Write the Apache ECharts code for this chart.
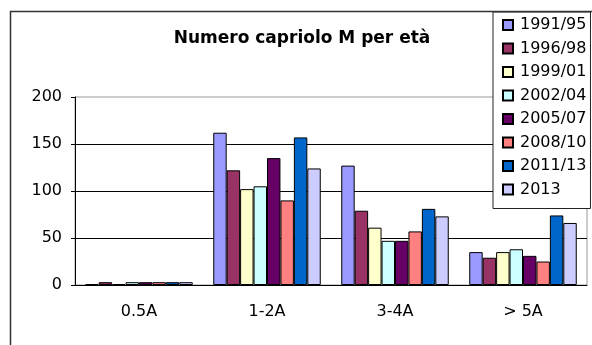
<!DOCTYPE html>
<html><head><meta charset="utf-8">
<script src="https://cdn.jsdelivr.net/npm/echarts@6/dist/echarts.min.js"></script>
<style>html,body{margin:0;padding:0;background:#fff}#c{width:592px;height:345px}</style>
</head><body><div id="c"></div>
<script>
const categories = ['0.5A', '1-2A', '3-4A', '> 5A'];
const seriesNames = ['1991/95', '1996/98', '1999/01', '2002/04', '2005/07', '2008/10', '2011/13', '2013'];
const s1991_95 = [1, 162, 127, 35];
const s1996_98 = [3, 122, 79, 29];
const s1999_01 = [1, 102, 61, 35];
const s2002_04 = [3, 105, 47, 38];
const s2005_07 = [3, 135, 47, 31];
const s2008_10 = [3, 90, 57, 25];
const s2011_13 = [3, 157, 81, 74];
const s2013 = [3, 124, 73, 66];
const yTicks = [0, 50, 100, 150, 200];
const colors = ['#9999FF', '#993366', '#FFFFCC', '#CCFFFF', '#660066', '#FF8080', '#0066CC', '#CCCCFF'];
const allValues = [s1991_95, s1996_98, s1999_01, s2002_04, s2005_07, s2008_10, s2011_13, s2013];

const font = 'DejaVu Sans, sans-serif';
const chart = echarts.init(document.getElementById('c'), null, {renderer: 'canvas'});
chart.setOption({
  animation: false,
  backgroundColor: '#fff',
  title: {
    text: 'Numero capriolo M per età',
    left: 297, top: 25, textAlign: 'center',
    textStyle: {fontFamily: font, fontWeight: 'bold', fontSize: 17, color: '#000'}
  },
  graphic: [{
    type: 'rect', z: 100, silent: true,
    shape: {x: 10.5, y: 11.5, width: 700, height: 500},
    style: {fill: 'none', stroke: '#333', lineWidth: 1.5}
  }],
  legend: {
    orient: 'vertical', left: 493, top: 12,
    width: 98,
    backgroundColor: '#fff', borderColor: '#222', borderWidth: 1,
    padding: [5, 4, 11, 9],
    itemWidth: 10, itemHeight: 10, itemGap: 7.5,
    icon: 'rect',
    textStyle: {fontFamily: font, fontSize: 16, color: '#000', lineHeight: 16, padding: [0, 0, 0, 2]},
    data: seriesNames
  },
  grid: {left: 75, right: 5, top: 97, bottom: 60, show: true, borderColor: '#999', borderWidth: 1, containLabel: false},
  xAxis: {
    type: 'category', data: categories,
    axisLine: {lineStyle: {color: '#000', width: 1}},
    axisTick: {length: 6, lineStyle: {color: '#000'}},
    axisLabel: {fontFamily: font, fontSize: 16, color: '#000', margin: 19}
  },
  yAxis: {
    type: 'value', min: yTicks[0], max: yTicks[yTicks.length - 1], interval: 50,
    axisLine: {show: true, lineStyle: {color: '#000', width: 1}},
    axisTick: {show: true, length: 4, lineStyle: {color: '#000'}},
    axisLabel: {fontFamily: font, fontSize: 16, color: '#000', margin: 13},
    splitLine: {show: true, showMaxLine: false, showMinLine: false, lineStyle: {color: '#000', width: 1}}
  },
  series: seriesNames.map((n, i) => ({
    name: n, type: 'bar', data: allValues[i],
    barGap: '0%', barCategoryGap: '16%',
    itemStyle: {color: colors[i], borderColor: '#000', borderWidth: 1}
  }))
});
</script></body></html>
